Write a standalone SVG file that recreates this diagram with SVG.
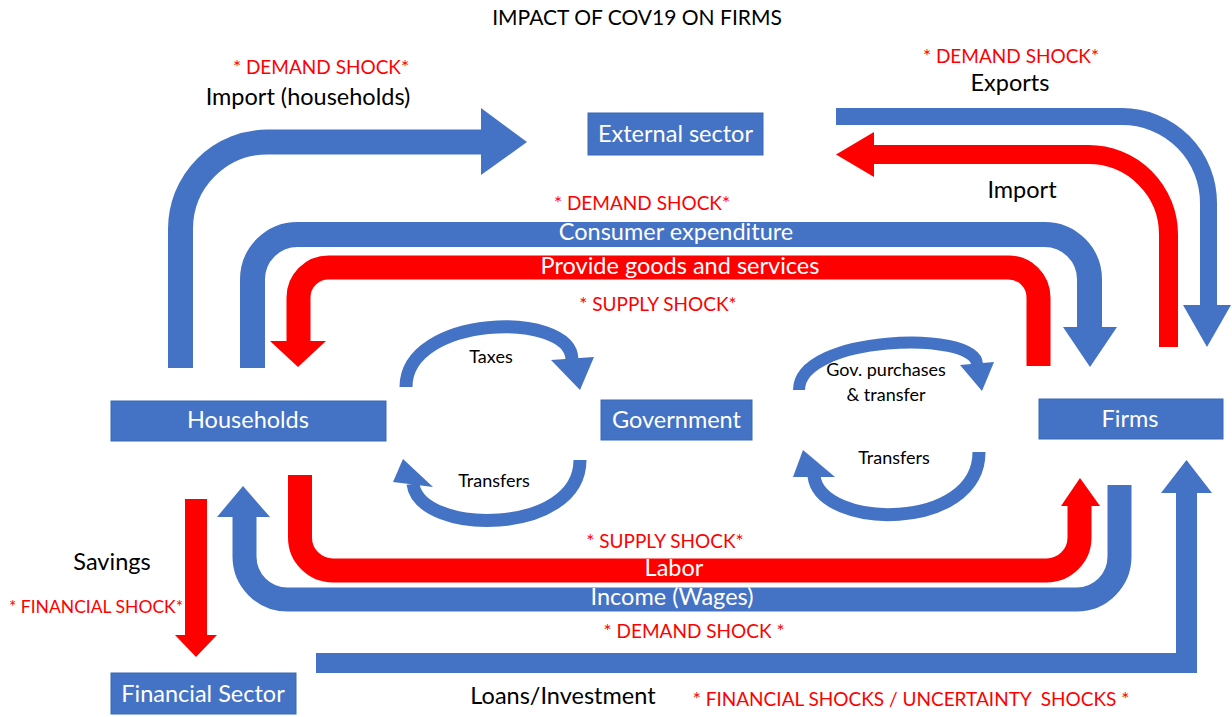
<svg xmlns="http://www.w3.org/2000/svg" width="1232" height="717" viewBox="0 0 1232 717">
<style>
.t{font-family:Lato,"Liberation Sans",sans-serif;text-anchor:middle}
.blk{fill:#000}
.red{fill:#FF0000}
.wht{fill:#FFFFFF}
.box{fill:#4472C4;stroke:#3B68B8;stroke-width:1}
.bs{fill:none;stroke:#4472C4}
.rs{fill:none;stroke:#FF0000}
.bh{fill:#4472C4}
.rh{fill:#FF0000}
.l{font-size:23.5px}
.m{font-size:19px}
.s{font-size:18px}
</style>
<rect width="1232" height="717" fill="#FFFFFF"/>
<text class="t blk" x="637" y="25" font-size="21">IMPACT OF COV19 ON FIRMS</text>

<g id="connectors">
  <!-- Import (households) -->
  <path class="bs" stroke-width="25" d="M180.5 368 V229 A87 87 0 0 1 267.5 142 H482"/>
  <polygon class="bh" points="481,108 527,142 481,175"/>
  <!-- Consumer expenditure -->
  <path class="bs" stroke-width="25" d="M252.5 368 V279.5 A45 45 0 0 1 297.5 234.5 H1044.5 A45 45 0 0 1 1089.5 279.5 V328"/>
  <polygon class="bh" points="1063,327 1117,327 1090,367"/>
  <!-- Provide goods and services -->
  <path class="rs" stroke-width="24" d="M1038.5 366 V297.5 A30 30 0 0 0 1008.5 267.5 H328.5 A30 30 0 0 0 298.5 297.5 V342"/>
  <polygon class="rh" points="270,341 326,341 298,367"/>
  <!-- Exports -->
  <path class="bs" stroke-width="17" d="M836 116.5 H1122 A86.5 86.5 0 0 1 1208.5 203 V306"/>
  <polygon class="bh" points="1183,305 1231,305 1207,347"/>
  <!-- Import -->
  <path class="rs" stroke-width="19" d="M1168.5 347 V234.5 A80 80 0 0 0 1088.5 154.5 H873"/>
  <polygon class="rh" points="874,132 836,154.5 874,177"/>
  <!-- Taxes -->
  <path class="bs" stroke-width="13" d="M406 387 C406 315 570 310 572 359"/>
  <polygon class="bh" points="551,360 594,357 580,390"/>
  <!-- Gov purchases -->
  <path class="bs" stroke-width="12" d="M799 390 C799 335 975 330 977 364"/>
  <polygon class="bh" points="960,365 994,362 982,391"/>
  <!-- Transfers left -->
  <path class="bs" stroke-width="13" d="M580 460 C580 536 420 536 413 484"/>
  <polygon class="bh" points="393,482 433,487 403,459"/>
  <!-- Transfers right -->
  <path class="bs" stroke-width="13" d="M979 452 C979 532 820 530 814 476"/>
  <polygon class="bh" points="793,477 835,477 803,450"/>
  <!-- Labor -->
  <path class="rs" stroke-width="24" d="M300 475 V537.5 A33 33 0 0 0 333 570.5 H1046.5 A33 33 0 0 0 1079.5 537.5 V505"/>
  <polygon class="rh" points="1061,506 1100,506 1080,478"/>
  <!-- Income -->
  <path class="bs" stroke-width="24" d="M1119.5 485 V556.5 A43 43 0 0 1 1076.5 599.5 H287.5 A43 43 0 0 1 244.5 556.5 V516"/>
  <polygon class="bh" points="217,517 270,517 243,486"/>
  <!-- Savings -->
  <path class="rs" stroke-width="22" d="M196 499 V636"/>
  <polygon class="rh" points="175,635 217,635 196,657"/>
  <!-- Loans/Investment -->
  <polygon class="bh" points="316,653 1176,653 1176,493 1161,493 1186.5,460 1212,493 1197,493 1197,673 316,673"/>
</g>

<g id="labels">
  <text class="t red m" x="321" y="73.5">* DEMAND SHOCK*</text>
  <text class="t blk l" x="308" y="105">Import (households)</text>
  <text class="t red m" x="1011" y="62.5">* DEMAND SHOCK*</text>
  <text class="t blk l" x="1010" y="91">Exports</text>
  <text class="t blk l" x="1022" y="198">Import</text>
  <text class="t red m" x="642" y="209.5">* DEMAND SHOCK*</text>
  <text class="t wht l" x="676" y="240">Consumer expenditure</text>
  <text class="t wht l" x="680" y="274">Provide goods and services</text>
  <text class="t red m" x="658" y="310.5">* SUPPLY SHOCK*</text>
  <text class="t blk s" x="491" y="363">Taxes</text>
  <text class="t blk s" x="886" y="376">Gov. purchases</text>
  <text class="t blk s" x="886" y="401">&amp; transfer</text>
  <text class="t blk s" x="494" y="487">Transfers</text>
  <text class="t blk s" x="894" y="464">Transfers</text>
  <text class="t blk l" x="112" y="570">Savings</text>
  <text class="t red" x="96" y="613" font-size="17.5">* FINANCIAL SHOCK*</text>
  <text class="t red m" x="665" y="547.5">* SUPPLY SHOCK*</text>
  <text class="t wht l" x="674" y="576">Labor</text>
  <text class="t wht l" x="672" y="605">Income (Wages)</text>
  <text class="t red m" x="694" y="637.5">* DEMAND SHOCK *</text>
  <text class="t blk l" x="563" y="704">Loans/Investment</text>
  <text class="t red m" x="911" y="705.5">* FINANCIAL SHOCKS / UNCERTAINTY &#160;SHOCKS *</text>
</g>

<g id="external-sector">
  <rect class="box" x="588" y="113" width="175" height="42"/>
  <text class="t wht l" x="675.5" y="142">External sector</text>
</g>
<g id="households">
  <rect class="box" x="111" y="401" width="275" height="40"/>
  <text class="t wht l" x="248" y="428">Households</text>
</g>
<g id="government">
  <rect class="box" x="601" y="400" width="151" height="40"/>
  <text class="t wht l" x="676.5" y="428">Government</text>
</g>
<g id="firms">
  <rect class="box" x="1039" y="399" width="184" height="40"/>
  <text class="t wht l" x="1130" y="427">Firms</text>
</g>
<g id="financial-sector">
  <rect class="box" x="111" y="673" width="185" height="41"/>
  <text class="t wht l" x="203" y="702">Financial Sector</text>
</g>
</svg>
